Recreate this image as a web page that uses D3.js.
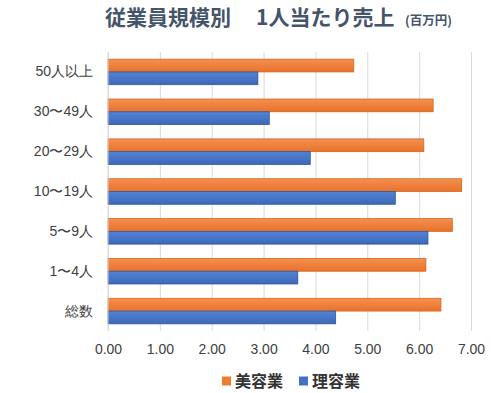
<!DOCTYPE html>
<html>
<head>
<meta charset="utf-8">
<script src="https://cdn.jsdelivr.net/npm/d3@7"></script>
<style>
  body { margin: 0; background: #fff; }
  svg { font-family: "Noto Sans CJK JP", "Noto Sans", sans-serif; }
  .tick text { fill: #404040; font-size: 14px; }
</style>
</head>
<body>
<svg width="500" height="393"></svg>
<script>
const categories = ['50人以上', '30〜49人', '20〜29人', '10〜19人', '5〜9人', '1〜4人', '総数'];
const biyou = [4.74, 6.27, 6.09, 6.82, 6.64, 6.13, 6.42];   // 美容業
const riyou = [2.89, 3.11, 3.90, 5.54, 6.17, 3.66, 4.39];   // 理容業
const seriesNames = ['美容業', '理容業'];
const xTicks = [0, 1, 2, 3, 4, 5, 6, 7];

const svg = d3.select('svg');
const width = +svg.attr('width');
const height = +svg.attr('height');

const margin = { top: 52, right: 29, bottom: 62, left: 108 };
const innerWidth = width - margin.left - margin.right;
const innerHeight = height - margin.top - margin.bottom;

const colors = ['#ED7D31', '#4472C4'];

const defs = svg.append('defs');
const grad = (id, top, bottom) => {
    const lg = defs.append('linearGradient').attr('id', id)
        .attr('x1', 0).attr('y1', 0).attr('x2', 0).attr('y2', 1);
    lg.append('stop').attr('offset', '0%').attr('stop-color', top);
    lg.append('stop').attr('offset', '100%').attr('stop-color', bottom);
};
grad('gOrange', '#F5904F', '#E8722A');
grad('gBlue', '#5283D6', '#3E68B8');

const xScale = d3.scaleLinear()
    .domain([0, 7])
    .range([0, innerWidth]);

const yScale = d3.scaleBand()
    .domain(categories)
    .range([0, innerHeight])
    .paddingInner(0.36)
    .paddingOuter(0.18);

const sub = d3.scaleBand()
    .domain(seriesNames)
    .range([0, yScale.bandwidth()]);

const g = svg.append('g')
    .attr('transform', `translate(${margin.left},${margin.top})`);

const xAxis = d3.axisBottom(xScale)
    .tickValues(xTicks)
    .tickFormat(d3.format('.2f'))
    .tickSize(-innerHeight)
    .tickPadding(13);

const xAxisG = g.append('g').call(xAxis)
    .attr('transform', `translate(0,${innerHeight})`);
xAxisG.select('.domain').remove();
xAxisG.selectAll('.tick line').attr('stroke', '#d9d9d9');

const yAxis = d3.axisLeft(yScale).tickSize(0).tickPadding(15);
const yAxisG = g.append('g').call(yAxis);
yAxisG.select('.domain').remove();

const rows = categories.map((c, i) => ({ c, values: [biyou[i], riyou[i]] }));

const rowG = g.selectAll('.row').data(rows)
    .enter().append('g')
    .attr('class', 'row')
    .attr('transform', d => `translate(0,${yScale(d.c)})`);

rowG.selectAll('rect')
    .data(d => d.values.map((v, j) => ({ name: seriesNames[j], v, j })))
    .enter().append('rect')
    .attr('x', 0)
    .attr('y', d => sub(d.name))
    .attr('width', d => xScale(d.v))
    .attr('height', sub.bandwidth())
    .attr('fill', d => d.j === 0 ? 'url(#gOrange)' : 'url(#gBlue)')
    .attr('stroke', d => d.j === 0 ? '#D9641E' : '#2F5597')
    .attr('stroke-width', 0.8);

// axis line at zero
g.append('line')
    .attr('x1', 0).attr('x2', 0)
    .attr('y1', 0).attr('y2', innerHeight)
    .attr('stroke', '#d9d9d9');

// title
const title = svg.append('text')
    .attr('y', 25)
    .attr('fill', '#44546A')
    .attr('font-weight', 'bold');
title.append('tspan').attr('x', 105).attr('font-size', 21).text('従業員規模別');
title.append('tspan').attr('x', 256).attr('font-size', 21).text('1人当たり売上');
title.append('tspan').attr('x', 405).attr('font-size', 12.5).text('(百万円)');

// legend
const legend = svg.append('g').attr('transform', 'translate(0,381)');
const legendX = [222, 299];
seriesNames.forEach((name, i) => {
    legend.append('rect')
        .attr('x', legendX[i]).attr('y', -4.5)
        .attr('width', 9).attr('height', 9)
        .attr('fill', colors[i]);
    legend.append('text')
        .attr('x', legendX[i] + 13)
        .attr('y', 0)
        .attr('dy', '0.35em')
        .attr('font-size', 16)
        .attr('font-weight', 'bold')
        .attr('fill', '#333')
        .text(name);
});
</script>
</body>
</html>
